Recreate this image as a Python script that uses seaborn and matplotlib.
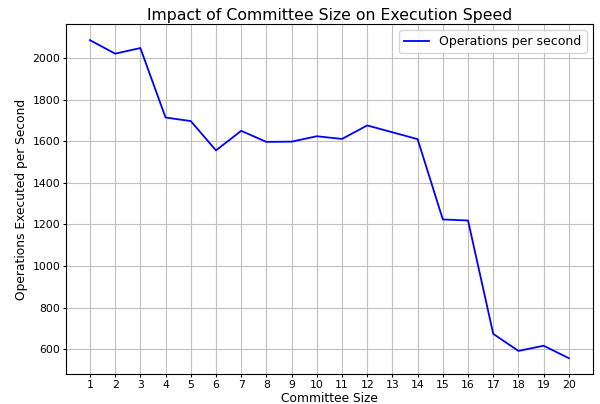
import pandas as pd
import matplotlib
matplotlib.use("Agg")
import matplotlib.pyplot as plt
import seaborn as sns

# values
committee_size = list(range(1, 21))
ops_per_second = [2086, 2021, 2048, 1714, 1697, 1556, 1650, 1597, 1598, 1624,
                  1611, 1676, 1643, 1610, 1224, 1219, 674, 592, 617, 557]

df = pd.DataFrame({"size": committee_size, "ops": ops_per_second})

fig, ax = plt.subplots(figsize=(6, 4.04), dpi=100)
sns.lineplot(data=df, x="size", y="ops", color="blue", linewidth=1.3,
             label="Operations per second", ax=ax)

ax.set_title("Impact of Committee Size on Execution Speed", fontsize=11.3, pad=3)
ax.set_xlabel("Committee Size", fontsize=8.8, labelpad=1.5)
ax.set_ylabel("Operations Executed per Second", fontsize=8.8, labelpad=3)
ax.set_xticks(committee_size)
ax.tick_params(labelsize=7.8, length=2.5, pad=1.5)
ax.grid(True, color="#c0c0c0")
ax.legend(loc="upper right", fontsize=9)

fig.subplots_adjust(left=0.11, right=0.988, top=0.94, bottom=0.074)
fig.savefig("out.png", dpi=100)
